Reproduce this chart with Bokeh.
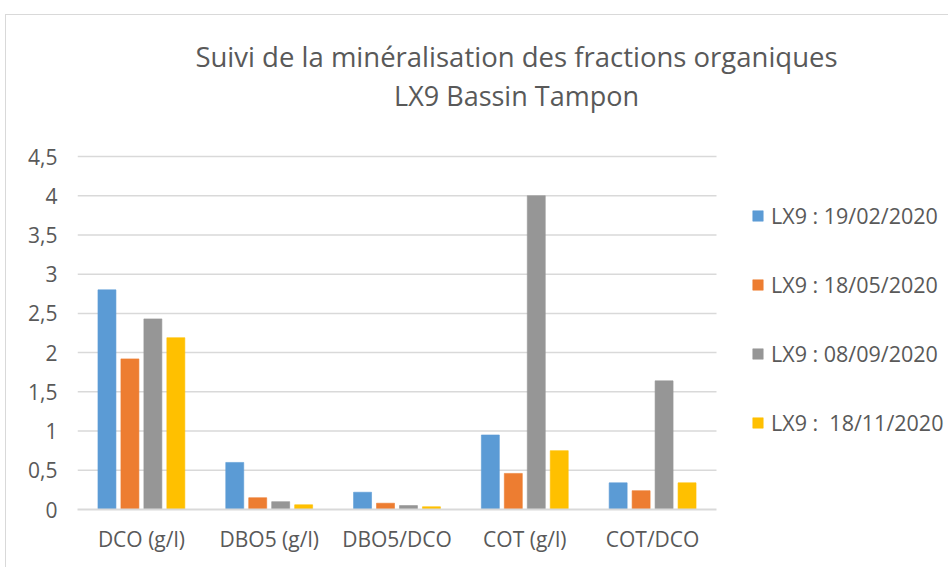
from bokeh.plotting import figure
from bokeh.models import (ColumnDataSource, Legend, LegendItem, Label,
                          FixedTicker, CustomJSTickFormatter, Range1d)
from bokeh.transform import dodge
from bokeh.embed import file_html
from bokeh.resources import INLINE

categories = ["DCO (g/l)", "DBO5 (g/l)", "DBO5/DCO", "COT (g/l)", "COT/DCO"]
series_names = ["LX9 : 19/02/2020", "LX9 : 18/05/2020", "LX9 : 08/09/2020", "LX9 :  18/11/2020"]
s_0219 = [2.80, 0.60, 0.22, 0.95, 0.34]
s_0518 = [1.92, 0.15, 0.08, 0.46, 0.24]
s_0809 = [2.43, 0.10, 0.05, 4.00, 1.64]
s_1118 = [2.19, 0.06, 0.035, 0.75, 0.34]
y_ticks = [0, 0.5, 1, 1.5, 2, 2.5, 3, 3.5, 4, 4.5]
title_lines = ["Suivi de la minéralisation des fractions organiques", "LX9 Bassin Tampon"]
colors = ["#5B9BD5", "#ED7D31", "#969696", "#FFC000"]
TXT = "#595959"

idx = list(range(len(categories)))
src = ColumnDataSource(dict(idx=idx, a=s_0219, b=s_0518, c=s_0809, d=s_1118))

# layout (pixels)
plot_w, plot_h = 639, 353          # area spanned by the categories / 0..4.5
FW, FH = 871, 493                  # full frame (includes title & legend room)
cat_px = plot_w / len(categories)
y_px = plot_h / y_ticks[-1]

p = figure(x_range=Range1d(-0.5, -0.5 + FW / cat_px), y_range=Range1d(0, FH / y_px),
           frame_width=FW, frame_height=FH, output_backend="svg", toolbar_location=None,
           title=None, min_border_left=71, min_border_right=0, min_border_top=1,
           min_border_bottom=58)

step = 23 / 128
bw = 18 / 128
renderers = []
for i, (col, c) in enumerate(zip(["a", "b", "c", "d"], colors)):
    r = p.vbar(x=dodge("idx", (i - 1.5) * step), top=col, width=bw,
               source=src, fill_color=c, line_color=c, line_alpha=0.6)
    renderers.append(r)

# horizontal gridlines limited to the category area
grid_src = ColumnDataSource(dict(y=y_ticks[1:], x0=[-0.5] * (len(y_ticks) - 1),
                                 x1=[len(categories) - 0.5] * (len(y_ticks) - 1)))
p.segment(x0="x0", x1="x1", y0="y", y1="y", source=grid_src,
          line_color="#D9D9D9", line_width=1.5, level="underlay")

p.outline_line_color = None
p.background_fill_color = "white"
p.border_fill_color = "white"
p.xgrid.grid_line_color = None
p.ygrid.grid_line_color = None

p.yaxis.ticker = FixedTicker(ticks=y_ticks)
p.yaxis.formatter = CustomJSTickFormatter(code="return tick.toString().replace('.', ',');")
p.yaxis.axis_line_color = None
p.yaxis.major_tick_line_color = None
p.yaxis.minor_tick_line_color = None
p.yaxis.major_label_text_font = "Open Sans"
p.yaxis.major_label_text_font_size = "21px"
p.yaxis.major_label_text_color = TXT
p.yaxis.major_label_standoff = 14

p.xaxis.ticker = FixedTicker(ticks=idx)
p.xaxis.major_label_overrides = {i: c for i, c in zip(idx, categories)}
p.xaxis.bounds = (-0.5, len(categories) - 0.5)
p.xaxis.axis_line_color = "#D9D9D9"
p.xaxis.axis_line_width = 2
p.xaxis.major_tick_line_color = None
p.xaxis.minor_tick_line_color = None
p.xaxis.major_label_text_font = "Open Sans"
p.xaxis.major_label_text_font_size = "21px"
p.xaxis.major_label_text_color = TXT
p.xaxis.major_label_standoff = 9

legend = Legend(items=[LegendItem(label=n, renderers=[r]) for n, r in zip(series_names, renderers)],
                location=(674, 72), orientation="vertical",
                glyph_width=13, glyph_height=13, label_height=20, spacing=40,
                label_text_font="Open Sans", label_text_font_size="21.5px",
                label_text_color=TXT, label_standoff=7,
                border_line_color=None, background_fill_alpha=0, padding=0, margin=0)
p.add_layout(legend, "center")

for txt, y, fs in zip(title_lines, [453, 414], ["27.5px", "27px"]):
    p.add_layout(Label(x=439, y=y, x_units="screen", y_units="screen", text=txt,
                       text_align="center", text_baseline="middle",
                       text_font="Open Sans", text_font_size=fs, text_color=TXT))

p.styles = {"border-left": "1px solid #D9D9D9", "border-top": "1px solid #D9D9D9",
            "margin-left": "5px", "margin-top": "14px"}

open("out.html", "w").write(file_html(p, INLINE))
